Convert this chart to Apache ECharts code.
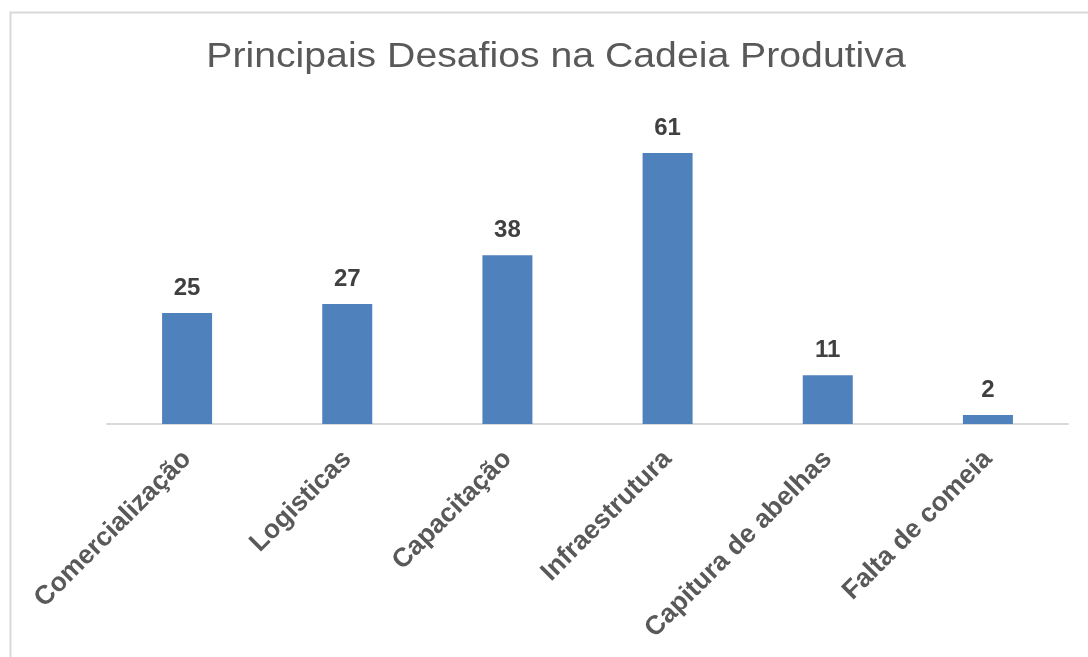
<!DOCTYPE html>
<html>
<head>
<meta charset="utf-8">
<script src="https://cdn.jsdelivr.net/npm/echarts@6/dist/echarts.min.js"></script>
<style>
  html, body { margin: 0; padding: 0; background: #fff; }
  #chart { width: 1088px; height: 657px; }
</style>
</head>
<body>
<div id="chart"></div>
<script>
const titleText = 'Principais Desafios na Cadeia Produtiva'
const categories = ['Comercialização', 'Logisticas', 'Capacitação', 'Infraestrutura', 'Capitura de abelhas', 'Falta de comeia']
const values = [25, 27, 38, 61, 11, 2]

const chart = echarts.init(document.getElementById('chart'))
chart.setOption({
  animation: false,
  graphic: [
    {
      type: 'rect',
      shape: { x: 10.5, y: 12.5, width: 1100, height: 700 },
      style: { fill: 'none', stroke: '#d9d9d9', lineWidth: 2 },
      silent: true
    },
    {
      // title is drawn as graphic text so it can be widened like the original
      type: 'text',
      x: 556,
      y: 57,
      scaleX: 1.12,
      style: {
        text: titleText,
        align: 'center',
        verticalAlign: 'middle',
        fontFamily: 'Liberation Sans',
        fontSize: 35,
        fill: '#595959'
      },
      silent: true
    }
  ],
  grid: {
    left: 107,
    right: 20,
    top: 113,
    bottom: 233,
    containLabel: false
  },
  xAxis: {
    type: 'category',
    data: categories,
    axisLine: { lineStyle: { color: '#d9d9d9', width: 2 } },
    axisTick: { show: false },
    axisLabel: {
      rotate: 45,
      interval: 0,
      margin: 31,
      fontFamily: 'Liberation Sans',
      fontSize: 26.5,
      fontWeight: 'bold',
      color: '#595959'
    }
  },
  yAxis: {
    type: 'value',
    min: 0,
    max: 70,
    show: false,
    splitLine: { show: false }
  },
  series: [
    {
      type: 'bar',
      data: values,
      barWidth: 50,
      itemStyle: { color: '#4f81bd' },
      label: {
        show: true,
        position: 'top',
        distance: 13,
        fontFamily: 'Liberation Sans',
        fontSize: 24,
        fontWeight: 'bold',
        color: '#404040'
      }
    }
  ]
})
</script>
</body>
</html>
